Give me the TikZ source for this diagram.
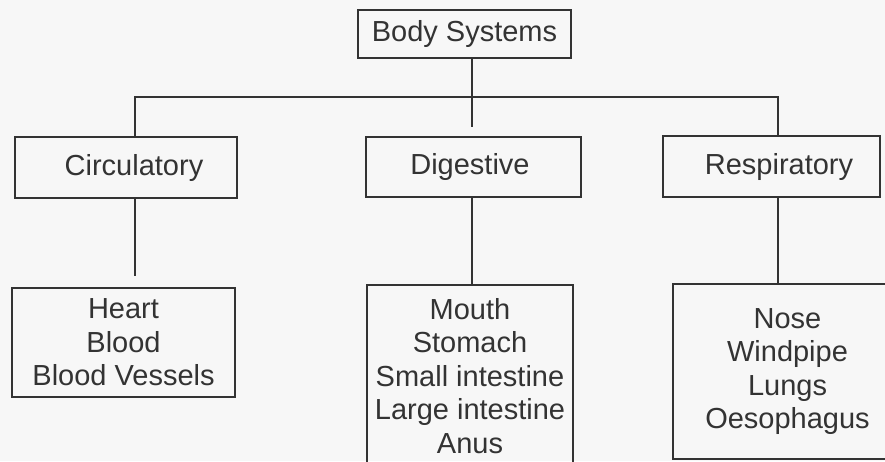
\documentclass[tikz,border=0pt]{standalone}
\usepackage{fontspec}
\setmainfont{Liberation Sans}
\begin{document}
\begin{tikzpicture}[x=1pt,y=-1pt,line width=1.8pt,color=black!80,
  font=\fontsize{29}{33.5}\selectfont,
  box/.style={draw,inner sep=0pt,align=center}]
\useasboundingbox (0,0) rectangle (885,461);
\clip (0,0) rectangle (885,461);
\fill[black!3] (0,0) rectangle (885,461);
\node[box,minimum width=213pt,minimum height=48pt] (body) at (464.5,34) {Body Systems};
\node[box,minimum width=222pt,minimum height=61pt] (circ) at (126,167.5) {\hspace*{16pt}Circulatory};
\node[box,minimum width=215pt,minimum height=60pt] (dig) at (473.5,167) {Digestive\hspace*{7pt}};
\node[box,minimum width=217pt,minimum height=61pt] (resp) at (771.5,166.5) {\hspace*{15pt}Respiratory};
\node[box,minimum width=223pt,minimum height=109pt] (heart) at (123.5,342.5) {Heart\\Blood\\Blood Vessels};
\node[box,minimum width=206pt,minimum height=182pt] (mouth) at (470,376) {Mouth\\Stomach\\Small intestine\\Large intestine\\Anus};
\node[box,minimum width=229pt,minimum height=175pt] (nose) at (787.5,371.5) {Nose\\Windpipe\\Lungs\\Oesophagus};

\coordinate (jc) at (135,97);
\coordinate (jd) at (472,97);
\coordinate (jr) at (778,97);

\draw (body.south -| jd) -- (jd);
\draw (circ.north -| jc) -- (jc) -- (jr) -- (resp.north -| jr);
\draw[shorten >=9pt] (jd) -- (dig.north -| jd);
\draw[shorten >=11pt] (circ.south -| jc) -- (heart.north -| jc);
\draw (dig.south -| jd) -- (mouth.north -| jd);
\draw (resp.south -| jr) -- (nose.north -| jr);
\end{tikzpicture}
\end{document}
